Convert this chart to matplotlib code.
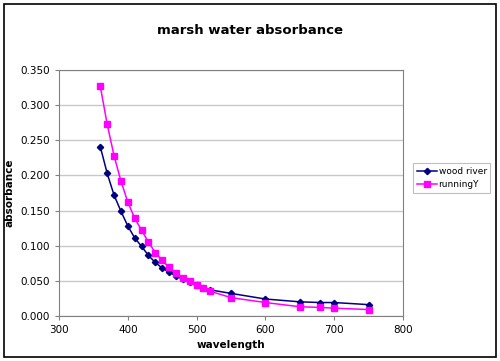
import matplotlib.pyplot as plt
from matplotlib.patches import Rectangle

# wavelengths (nm) and absorbance readings
wavelength = [360, 370, 380, 390, 400, 410, 420, 430, 440, 450, 460, 470,
              480, 490, 500, 510, 520, 550, 600, 650, 680, 700, 750]
wood_river = [0.241, 0.203, 0.172, 0.149, 0.128, 0.111, 0.099, 0.086, 0.076,
              0.068, 0.062, 0.057, 0.052, 0.048, 0.044, 0.040, 0.037, 0.032,
              0.024, 0.020, 0.019, 0.019, 0.016]
running_y = [0.327, 0.273, 0.228, 0.192, 0.162, 0.139, 0.122, 0.105, 0.090,
             0.079, 0.069, 0.061, 0.054, 0.050, 0.044, 0.039, 0.035, 0.026,
             0.019, 0.013, 0.012, 0.011, 0.009]

plt.rcParams['font.family'] = ['DejaVu Sans']

fig = plt.figure(figsize=(5, 3.61), dpi=100)
ax = fig.add_axes([0.118, 0.125, 0.688, 0.681])

ax.plot(wavelength, wood_river, '-D', color='#000080', lw=1.1, ms=3.2,
        label='wood river')
ax.plot(wavelength, running_y, '-s', color='#ff00ff', lw=1.1, ms=4.2,
        label='runningY')

ax.set_xlim(300, 800)
ax.set_ylim(0, 0.35)
ax.set_xticks(range(300, 801, 100))
ax.set_yticks([i * 0.05 for i in range(8)])
ax.set_yticklabels([f'{i * 0.05:.3f}' for i in range(8)])
ax.tick_params(labelsize=7.5, length=3, color='#808080', direction='out')
ax.grid(axis='y', color='#c8c8c8', lw=1)
ax.set_axisbelow(True)
for s in ax.spines.values():
    s.set_color('#808080')

ax.set_xlabel('wavelength', fontsize=7.5, fontweight='bold', labelpad=4)
ax.set_ylabel('absorbance', fontsize=7.5, fontweight='bold', labelpad=4)
fig.text(0.5, 0.905, 'marsh water absorbance', ha='center',
         fontsize=9.5, fontweight='bold')

leg = ax.legend(loc='center left', bbox_to_anchor=(1.03, 0.56), fontsize=6.5,
                frameon=True, fancybox=False, edgecolor='#b0b0b0',
                handlelength=2.2, borderpad=0.4, labelspacing=0.5,
                handletextpad=0.2, borderaxespad=0)
leg.get_frame().set_linewidth(0.8)

fig.patches.append(Rectangle((0.008, 0.011), 0.984, 0.978,
                             transform=fig.transFigure, fill=False,
                             edgecolor='black', lw=1.2))

fig.savefig('out.png', dpi=100)
